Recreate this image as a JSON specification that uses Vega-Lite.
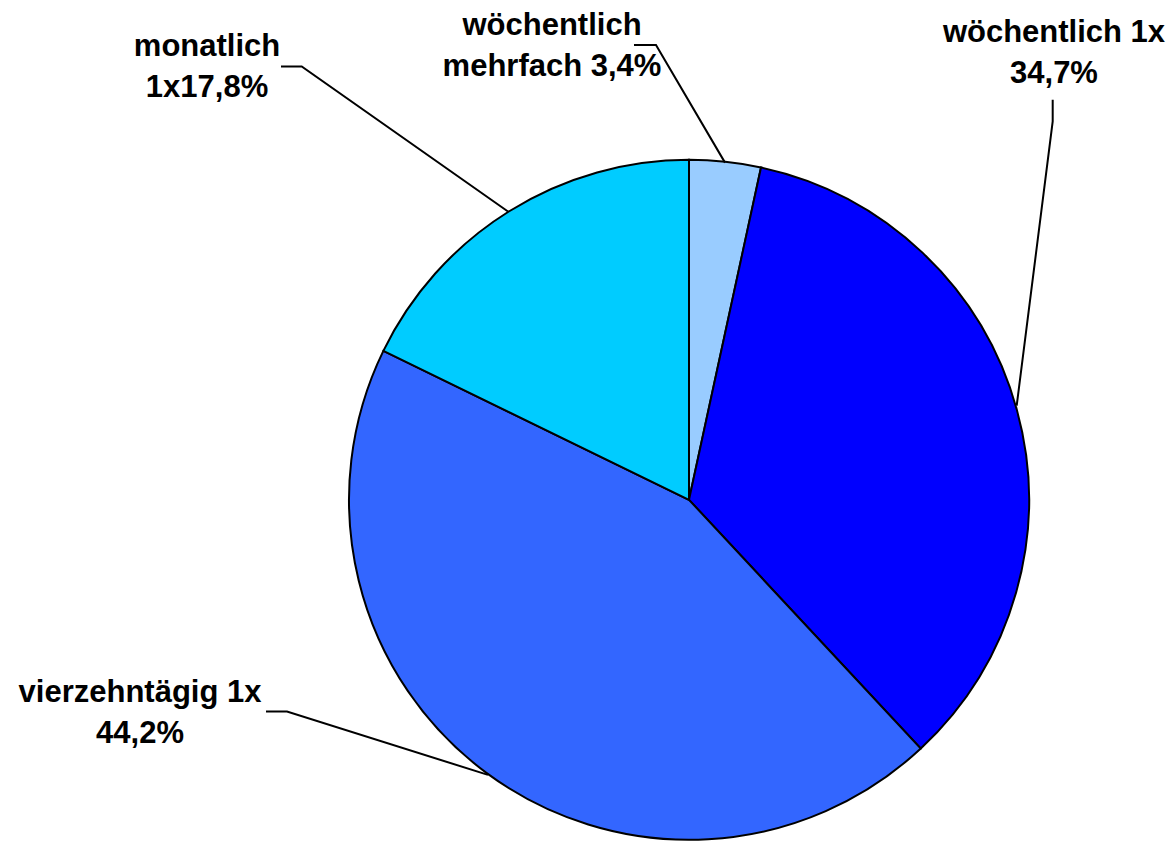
{
  "$schema": "https://vega.github.io/schema/vega-lite/v6.json",
  "width": 1173,
  "height": 844,
  "autosize": {"type": "fit", "contains": "padding"},
  "padding": 0,
  "background": "white",
  "config": {"view": {"stroke": null}},
  "datasets": {
    "slices": [
      {"category": "wöchentlich mehrfach", "value": 3.4, "order": 1},
      {"category": "wöchentlich 1x", "value": 34.7, "order": 2},
      {"category": "vierzehntägig 1x", "value": 44.2, "order": 3},
      {"category": "monatlich 1x", "value": 17.8, "order": 4}
    ],
    "labels": [
      {"category": "monatlich 1x", "label": "monatlich\n1x17,8%", "x": -1.4176, "y": 1.3074},
      {"category": "wöchentlich mehrfach", "label": "wöchentlich\nmehrfach 3,4%", "x": -0.4029, "y": 1.3706},
      {"category": "wöchentlich 1x", "label": "wöchentlich 1x\n34,7%", "x": 1.0735, "y": 1.3509},
      {"category": "vierzehntägig 1x", "label": "vierzehntägig 1x\n44,2%", "x": -1.6147, "y": -0.595}
    ],
    "leaders": [
      {"category": "monatlich 1x", "i": 0, "x": -1.2, "y": 1.2774},
      {"category": "monatlich 1x", "i": 1, "x": -1.1391, "y": 1.2774},
      {"category": "monatlich 1x", "i": 2, "x": -0.5324, "y": 0.85},
      {"category": "wöchentlich mehrfach", "i": 0, "x": -0.1618, "y": 1.3412},
      {"category": "wöchentlich mehrfach", "i": 1, "x": -0.0971, "y": 1.3412},
      {"category": "wöchentlich mehrfach", "i": 2, "x": 0.1059, "y": 0.9941},
      {"category": "wöchentlich 1x", "i": 0, "x": 1.0697, "y": 1.1794},
      {"category": "wöchentlich 1x", "i": 1, "x": 1.0697, "y": 1.1156},
      {"category": "wöchentlich 1x", "i": 2, "x": 0.9638, "y": 0.2774},
      {"category": "vierzehntägig 1x", "i": 0, "x": -1.2441, "y": -0.6244},
      {"category": "vierzehntägig 1x", "i": 1, "x": -1.1824, "y": -0.6244},
      {"category": "vierzehntägig 1x", "i": 2, "x": -0.5912, "y": -0.8109}
    ]
  },
  "layer": [
    {
      "data": {"name": "slices"},
      "mark": {"type": "arc", "outerRadius": 340, "stroke": "black", "strokeWidth": 2, "strokeJoin": "miter"},
      "encoding": {
        "theta": {"field": "value", "type": "quantitative", "stack": true},
        "order": {"field": "order", "type": "quantitative"},
        "color": {
          "field": "category",
          "type": "nominal",
          "scale": {
            "domain": ["wöchentlich mehrfach", "wöchentlich 1x", "vierzehntägig 1x", "monatlich 1x"],
            "range": ["#99CCFF", "#0000FF", "#3366FF", "#00CCFF"]
          },
          "legend": null
        },
        "x": {"datum": 0, "type": "quantitative", "scale": {"domain": [-2.02647, 1.42353], "nice": false, "zero": false}, "axis": null},
        "y": {"datum": 0, "type": "quantitative", "scale": {"domain": [-1.00882, 1.47353], "nice": false, "zero": false}, "axis": null}
      }
    },
    {
      "data": {"name": "leaders"},
      "mark": {"type": "line", "color": "black", "strokeWidth": 2},
      "encoding": {
        "x": {"field": "x", "type": "quantitative", "scale": {"domain": [-2.02647, 1.42353], "nice": false, "zero": false}, "axis": null},
        "y": {"field": "y", "type": "quantitative", "scale": {"domain": [-1.00882, 1.47353], "nice": false, "zero": false}, "axis": null},
        "detail": {"field": "category", "type": "nominal"},
        "order": {"field": "i", "type": "quantitative"}
      }
    },
    {
      "data": {"name": "labels"},
      "mark": {"type": "text", "font": "Liberation Sans", "fontWeight": "bold", "fontSize": 31, "align": "center", "baseline": "alphabetic", "lineBreak": "\n", "lineHeight": 41, "color": "black"},
      "encoding": {
        "x": {"field": "x", "type": "quantitative", "scale": {"domain": [-2.02647, 1.42353], "nice": false, "zero": false}, "axis": null},
        "y": {"field": "y", "type": "quantitative", "scale": {"domain": [-1.00882, 1.47353], "nice": false, "zero": false}, "axis": null},
        "text": {"field": "label", "type": "nominal"}
      }
    }
  ]
}
